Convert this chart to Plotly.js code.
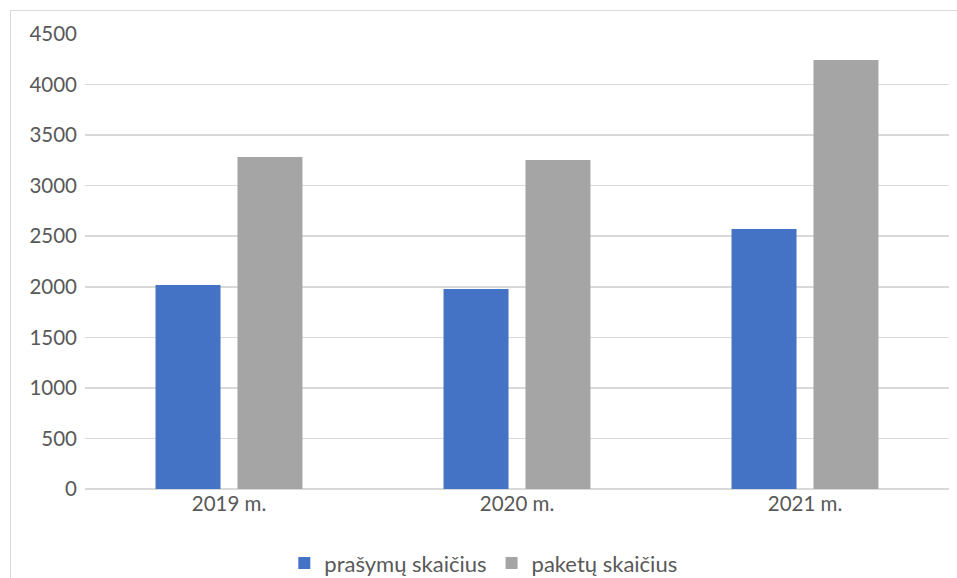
<!DOCTYPE html>
<html>
<head>
<meta charset="utf-8">
<script src="https://cdn.plot.ly/plotly-3.0.1.min.js"></script>
<style>
  html, body { margin: 0; padding: 0; background: #ffffff; overflow: hidden; }
  #wrap { position: relative; width: 957px; height: 578px; overflow: hidden; }
  #chart { position: absolute; left: 0; top: 0; width: 957px; height: 620px; }
  #frame { position: absolute; left: 10px; top: 10px; width: 1000px; height: 700px;
           border: 1.5px solid #d9d9d9; box-sizing: border-box; pointer-events: none; }
</style>
</head>
<body>
<div id="wrap">
  <div id="chart"></div>
  <div id="frame"></div>
</div>
<script>
const categories = ["2019 m.", "2020 m.", "2021 m."];
const seriesNames = ["prašymų skaičius", "paketų skaičius"];
const prasymuValues = [2017, 1978, 2571];
const paketuValues = [3283, 3254, 4243];
const yTickValues = [0, 500, 1000, 1500, 2000, 2500, 3000, 3500, 4000, 4500];

const tickFont = { family: "Lato, 'Open Sans', sans-serif", size: 20.5, color: "#595959" };
const legendFont = { family: "Lato, 'Open Sans', sans-serif", size: 22, color: "#595959" };

const traces = [
  { type: "bar", name: seriesNames[0], x: categories, y: prasymuValues,
    marker: { color: "#4472c4" }, hoverinfo: "skip" },
  { type: "bar", name: seriesNames[1], x: categories, y: paketuValues,
    marker: { color: "#a5a5a5" }, hoverinfo: "skip" }
];

const layout = {
  width: 957, height: 620,
  margin: { l: 85, r: 8, t: 34, b: 131 },
  paper_bgcolor: "rgba(0,0,0,0)",
  plot_bgcolor: "rgba(0,0,0,0)",
  font: tickFont,
  barmode: "group",
  bargap: 0.431,
  bargroupgap: 0.207,
  showlegend: true,
  legend: { orientation: "h", x: 0.461, xanchor: "center", y: -0.163, yanchor: "middle",
            font: legendFont, itemwidth: 30, traceorder: "normal" },
  xaxis: { type: "category", showgrid: false, zeroline: false, showline: false,
           ticks: "", tickfont: tickFont, fixedrange: true },
  yaxis: { range: [0, 4500], tickvals: yTickValues, ticktext: yTickValues.map(String),
           showgrid: true, gridcolor: "#d9d9d9", gridwidth: 1.5,
           zeroline: true, zerolinecolor: "#d9d9d9", zerolinewidth: 1.5,
           showline: false, ticks: "", ticklabelstandoff: 7, tickfont: tickFont, fixedrange: true }
};

Plotly.newPlot("chart", traces, layout, { displayModeBar: false, staticPlot: true });
</script>
</body>
</html>
